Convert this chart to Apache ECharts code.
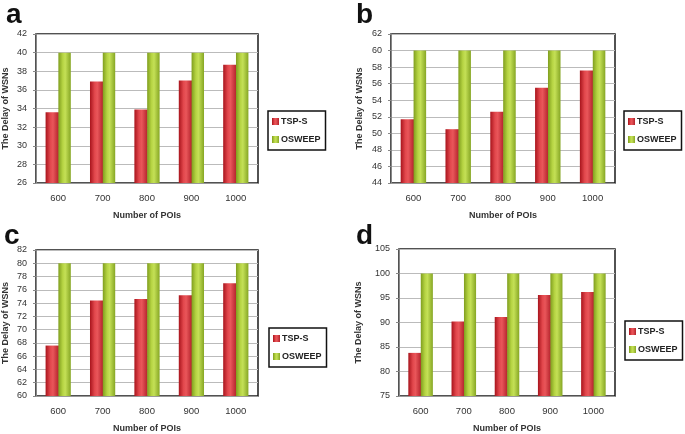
<!DOCTYPE html>
<html><head><meta charset="utf-8">
<script src="https://cdn.jsdelivr.net/npm/echarts@6/dist/echarts.min.js"></script>
<style>html,body{margin:0;padding:0;background:#fff}#c{width:685px;height:434px}</style>
</head><body><div id="c"></div>
<script>
const categories = ['600', '700', '800', '900', '1000'];
const seriesNames = ['TSP-S', 'OSWEEP'];
const panelLabels = ['a', 'b', 'c', 'd'];
const tspA = [33.6, 36.9, 33.9, 37.0, 38.7];
const osweepA = [40, 40, 40, 40, 40];
const tspB = [51.7, 50.5, 52.6, 55.5, 57.6];
const osweepB = [60, 60, 60, 60, 60];
const tspC = [67.6, 74.4, 74.6, 75.2, 77.0];
const osweepC = [80, 80, 80, 80, 80];
const tspD = [83.8, 90.2, 91.1, 95.6, 96.2];
const osweepD = [100, 100, 100, 100, 100];
const yTicks = [
  {min: 26, max: 42, interval: 2},
  {min: 44, max: 62, interval: 2},
  {min: 60, max: 82, interval: 2},
  {min: 75, max: 105, interval: 5}
];
const tspData = [tspA, tspB, tspC, tspD];
const osweepData = [osweepA, osweepB, osweepC, osweepD];

const grids = [
  {left: 35, top: 34, width: 223, height: 149},
  {left: 391, top: 34, width: 224, height: 149},
  {left: 35, top: 250, width: 223, height: 150},
  {left: 399, top: 249, width: 216, height: 150}
];
const yNameGap = [26, 27, 26, 36];
const legends = [
  {left: 268, top: 111},
  {left: 624, top: 111},
  {left: 269, top: 328},
  {left: 625, top: 321}
];
const letterPos = [[6, 1], [356, 1], [4, 222], [356, 222]];

const redGrad = {type: 'linear', x: 0, y: 0, x2: 1, y2: 0, colorStops: [
  {offset: 0, color: '#a8141c'}, {offset: 0.35, color: '#e2474c'}, {offset: 0.55, color: '#e9565a'}, {offset: 1, color: '#b2212a'}]};
const greenGrad = {type: 'linear', x: 0, y: 0, x2: 1, y2: 0, colorStops: [
  {offset: 0, color: '#7f9e1e'}, {offset: 0.35, color: '#b6d443'}, {offset: 0.55, color: '#c4e056'}, {offset: 1, color: '#86a624'}]};

const option = {
  animation: false,
  textStyle: {fontFamily: 'Liberation Sans, Arial, sans-serif'},
  grid: grids.map(g => Object.assign({show: true, borderColor: '#1a1a1a', borderWidth: 1.5, backgroundColor: '#fff'}, g)),
  xAxis: grids.map((g, i) => ({
    type: 'category', gridIndex: i, data: categories,
    name: 'Number of POIs', nameLocation: 'middle', nameGap: 28,
    nameTextStyle: {fontSize: 9, fontWeight: 'bold', color: '#333'},
    axisLine: {lineStyle: {color: '#999', width: 1}},
    axisTick: {show: false},
    axisLabel: {fontSize: 9.5, color: '#333', margin: 10}
  })),
  yAxis: grids.map((g, i) => ({
    type: 'value', gridIndex: i, min: yTicks[i].min, max: yTicks[i].max, interval: yTicks[i].interval,
    name: 'The Delay of WSNs', nameLocation: 'middle', nameGap: yNameGap[i],
    nameTextStyle: {fontSize: 9, fontWeight: 'bold', color: '#333'},
    axisLine: {show: true, lineStyle: {color: '#888', width: 1}},
    axisTick: {show: true, length: 3, lineStyle: {color: '#888'}},
    axisLabel: {fontSize: 9, color: '#333', margin: 9},
    splitLine: {lineStyle: {color: '#bbb', width: 1}}
  })),
  legend: legends.map((l, i) => ({
    orient: 'vertical', left: l.left, top: l.top, data: seriesNames,
    borderColor: '#111', borderWidth: 1.5, padding: [6, 5, 6, 4], itemGap: 9,
    itemWidth: 7, itemHeight: 7, icon: 'rect',
    textStyle: {fontSize: 9, fontWeight: 'bold', color: '#222', padding: [0, 0, 0, -3]},
    selectedMode: false
  })),
  graphic: panelLabels.map((t, i) => ({
    type: 'text', left: letterPos[i][0], top: letterPos[i][1],
    style: {text: t, fontSize: 28, fontWeight: 'bold', fill: '#111', fontFamily: 'Liberation Sans, Arial, sans-serif'}
  })),
  series: []
};
for (let i = 0; i < 4; i++) {
  option.series.push({
    name: seriesNames[0], type: 'bar', xAxisIndex: i, yAxisIndex: i, data: tspData[i],
    barWidth: '30%', barGap: '-4%', itemStyle: {color: redGrad}, legendHoverLink: false
  });
  option.series.push({
    name: seriesNames[1], type: 'bar', xAxisIndex: i, yAxisIndex: i, data: osweepData[i],
    barWidth: '28%', barGap: '-4%', itemStyle: {color: greenGrad}
  });
}
const chart = echarts.init(document.getElementById('c'), null, {renderer: 'canvas'});
chart.setOption(option);
</script></body></html>
